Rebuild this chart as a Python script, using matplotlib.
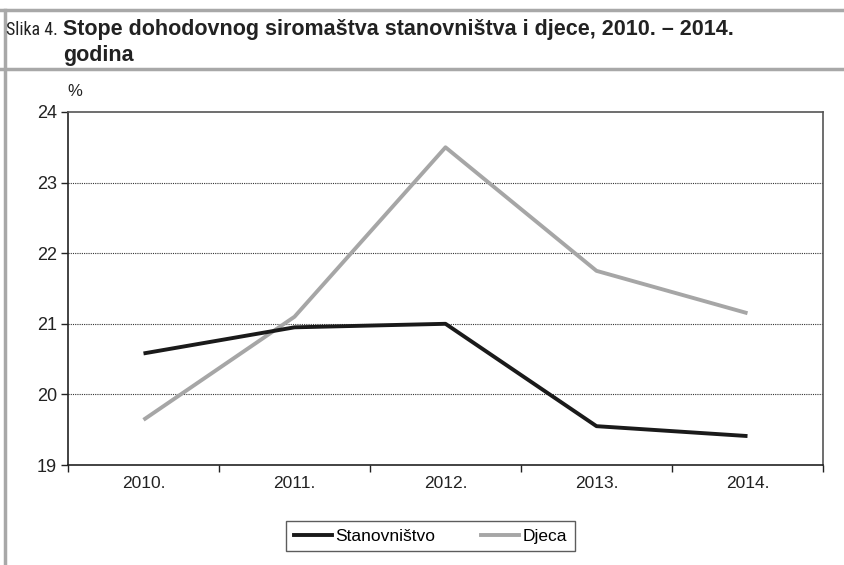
import matplotlib
matplotlib.use("Agg")
import matplotlib.pyplot as plt
from matplotlib import font_manager
from matplotlib.font_manager import FontProperties
from matplotlib.lines import Line2D
import numpy as np

years = ["2010.", "2011.", "2012.", "2013.", "2014."]
stanovnistvo = [20.58, 20.95, 21.0, 19.55, 19.41]
djeca = [19.64, 21.1, 23.5, 21.75, 21.15]
series_names = ["Stanovništvo", "Djeca"]
y_ticks = [19, 20, 21, 22, 23, 24]
title_prefix = "Slika 4."
title_main = "Stope dohodovnog siromaštva stanovništva i djece, 2010. – 2014."
title_line2 = "godina"

flist = font_manager.fontManager.ttflist
names = {f.name for f in flist}
base_font = "Liberation Sans" if "Liberation Sans" in names else "DejaVu Sans"
plt.rcParams["font.family"] = [base_font, "DejaVu Sans"]


def wnum(w):
    try:
        return int(w)
    except Exception:
        return {"bold": 700, "normal": 400, "regular": 400}.get(str(w), 400)


def desc(f):
    return (f.name + " " + str(f.stretch) + " " + f.fname.split("/")[-1]).lower().replace("-", "").replace("_", "")


def is_condensed(f):
    d = desc(f)
    return ("condensed" in d and "semicondensed" not in d and "extracondensed" not in d
            and "ultracondensed" not in d) or "narrow" in d


def is_semicond(f):
    return "semicondensed" in desc(f)


def weight_ok(f, bold):
    w = wnum(f.weight)
    return (600 <= w < 800) if bold else (350 <= w <= 450)


def find(pred, bold, prefs):
    for p in prefs:
        for f in flist:
            if f.name.startswith(p) and pred(f) and f.style == "normal" and weight_ok(f, bold):
                return FontProperties(fname=f.fname)
    return None


fp_reg = find(is_condensed, False, ["Liberation Sans Narrow", "Roboto Condensed", "Noto Sans", "Open Sans", "Roboto"]) \
    or FontProperties(family=[base_font, "DejaVu Sans"])
fp_bold = find(is_semicond, True, ["Noto Sans", "Open Sans"]) \
    or FontProperties(family=[base_font, "DejaVu Sans"], weight="bold")

W, H = 844, 565
fig = plt.figure(figsize=(W / 100, H / 100), dpi=100)


def fx(px):
    return px / W


def fy(py):
    return 1 - py / H


ax = fig.add_axes([fx(68), fy(465), fx(823) - fx(68), fy(112) - fy(465)])
x = np.arange(len(years))
ax.plot(x, djeca, color="#a6a6a6", lw=2.8, solid_capstyle="butt", zorder=3)
ax.plot(x, stanovnistvo, color="#1a1a1a", lw=2.8, solid_capstyle="butt", zorder=4)

ax.set_xlim(-0.5, len(years) - 0.5)
ax.set_ylim(19, 24)
ax.set_yticks(y_ticks)
ax.set_yticklabels([str(v) for v in y_ticks], fontsize=13, color="#222222")
ax.set_xticks(np.arange(-0.5, len(years), 1.0))
ax.set_xticklabels([])
ax.set_xticks(x, minor=True)
ax.set_xticklabels(years, minor=True, fontsize=12.5, color="#222222")
ax.tick_params(axis="x", which="major", direction="out", length=5, width=1, color="#222222")
ax.tick_params(axis="x", which="minor", length=0, pad=8)
ax.tick_params(axis="y", direction="out", length=5, width=1, color="#222222", pad=3)
for yv in y_ticks[1:-1]:
    ax.axhline(yv, color="#333333", lw=0.8, ls=(0, (1, 1)), zorder=1)
for side, sp in ax.spines.items():
    sp.set_linewidth(1.2)
    sp.set_color("#222222" if side in ("left", "bottom") else "#555555")

ax.text(fx(67), fy(92), "%", transform=fig.transFigure, fontsize=12, ha="left", va="center", color="#222222")

h1 = Line2D([], [], color="#1a1a1a", lw=2.8)
h2 = Line2D([], [], color="#a6a6a6", lw=2.8)
leg = fig.legend([h1, h2], series_names, loc="center", bbox_to_anchor=(fx(430.5), fy(536)),
                 ncol=2, fontsize=12.5, frameon=True, fancybox=False, handlelength=2.2,
                 handletextpad=0.2, columnspacing=2.6, borderpad=0.45)
leg.get_frame().set_edgecolor("#333333")
leg.get_frame().set_linewidth(1.0)

# header border
gray = "#a8a8a8"
fig.add_artist(Line2D([0, 1], [fy(9.5), fy(9.5)], transform=fig.transFigure, color=gray, lw=2.5))
fig.add_artist(Line2D([0, 1], [fy(69), fy(69)], transform=fig.transFigure, color=gray, lw=2.5))
fig.add_artist(Line2D([fx(4.5), fx(4.5)], [fy(9.5), 0], transform=fig.transFigure, color=gray, lw=2.5))

p = fig.text(fx(6), fy(30), title_prefix, fontproperties=fp_reg, ha="left", va="center", color="#222222")
t = fig.text(fx(63), fy(30), title_main, fontproperties=fp_bold, ha="left", va="center", color="#222222")
p.set_fontsize(13.5)
t.set_fontsize(13.5)
fig.canvas.draw()
bb = t.get_window_extent()
size = max(11.5, min(15.5, 13.5 * (810 - 63) / bb.width))
t.set_fontsize(size)
bbp = p.get_window_extent()
p.set_fontsize(min(14.5, 13.5 * (58 - 6) / bbp.width))
g = fig.text(fx(63), fy(55), title_line2, fontproperties=fp_bold, ha="left", va="center", color="#222222")
g.set_fontsize(size)

fig.savefig("out.png", dpi=100, facecolor="white")
